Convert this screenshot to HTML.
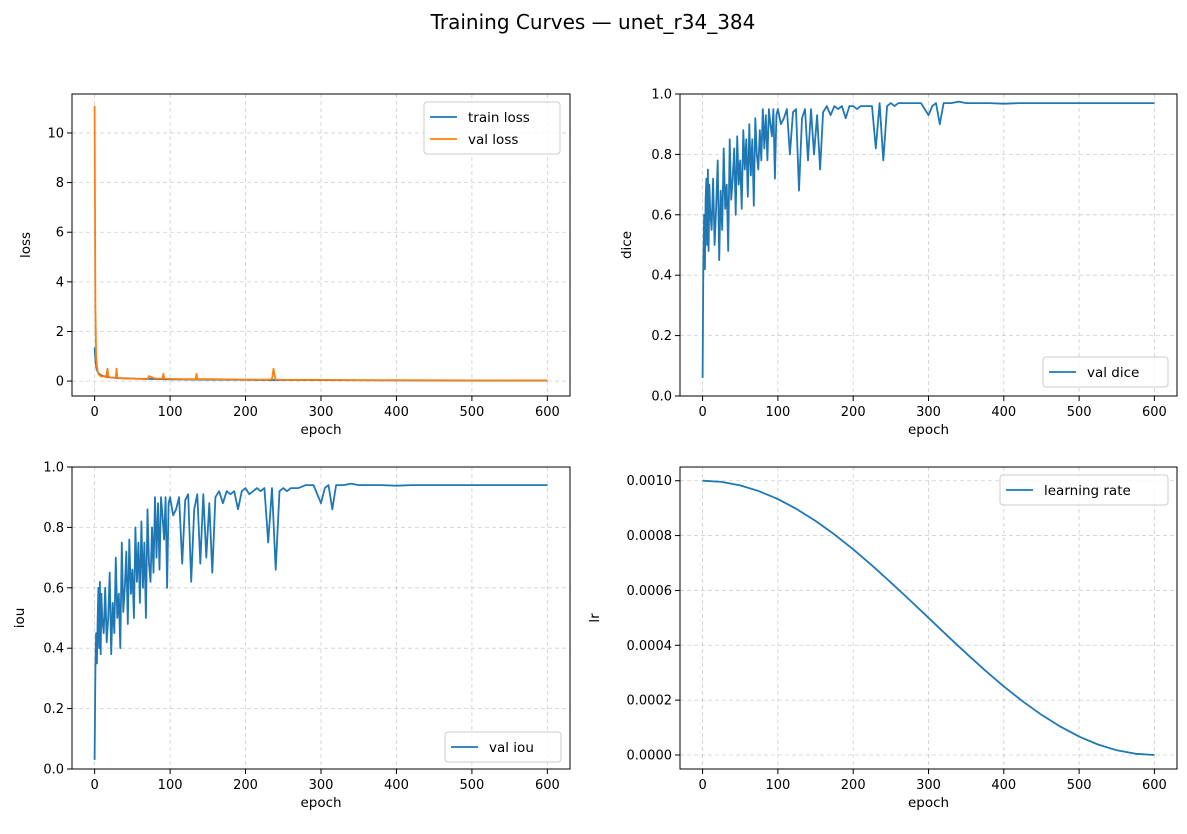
<!DOCTYPE html>
<html><head><meta charset="utf-8"><style>
body{margin:0;background:#fff;font-family:"Liberation Sans","DejaVu Sans",sans-serif}
svg text{font-family:"DejaVu Sans","Liberation Sans",sans-serif}
</style></head><body>
<svg id="fig" width="1187" height="829" viewBox="0 0 1187 829" xmlns="http://www.w3.org/2000/svg">
<rect width="1187" height="829" fill="#fff"/>
<text x="593" y="29" text-anchor="middle" font-size="20">Training Curves — unet_r34_384</text>
</svg>
<script>
const lossEpochs=[0,1,2,3,4,5,6,8,10,12,15,17,18,20,25,28,29,30,32,35,40,50,60,70,72,80,90,91,92,100,120,134,135,136,150,200,230,235,237,238,240,250,300,350,400,500,600];
const valLoss=[11.1,3,1,.6,.4,.3,.25,.2,.18,.2,.15,.5,.2,.15,.14,.12,.5,.15,.12,.12,.1,.1,.09,.08,.2,.1,.1,.3,.1,.09,.08,.08,.3,.08,.08,.06,.06,.08,.5,.3,.06,.05,.05,.04,.04,.03,.03];
const trainEpochs=[0,1,2,3,5,8,10,15,20,30,50,100,200,300,400,600];
const trainLoss=[1.35,0.9,0.6,0.45,0.32,0.25,0.22,0.18,0.15,0.12,0.1,0.07,0.05,0.04,0.03,0.02];
const metricEpochs=[0,1,2,3,4,5,6,7,8,9,10,12,14,16,18,20,22,24,26,28,30,32,34,36,38,40,42,44,46,48,50,52,54,56,58,60,62,64,66,68,70,72,74,76,78,80,82,84,86,88,90,92,94,96,98,100,104,108,112,116,120,124,128,132,136,140,144,148,152,156,160,165,170,175,180,185,190,195,200,205,210,215,220,225,230,235,240,245,250,255,260,270,280,290,300,305,310,315,320,330,340,350,360,380,400,420,440,460,480,500,520,540,560,580,600];
const valDice=[0.06,0.42,0.6,0.42,0.65,0.72,0.5,0.75,0.48,0.7,
0.62,0.55,0.72,0.5,0.62,0.78,0.45,0.68,0.55,0.82,
0.62,0.7,0.48,0.85,0.65,0.72,0.82,0.6,0.86,0.7,
0.78,0.62,0.88,0.75,0.85,0.66,0.9,0.73,0.85,0.63,
0.92,0.8,0.75,0.88,0.78,0.95,0.82,0.93,0.78,0.95,
0.9,0.86,0.95,0.72,0.93,0.95,0.9,0.92,0.95,0.8,
0.94,0.95,0.68,0.92,0.95,0.78,0.95,0.8,0.93,0.75,
0.94,0.96,0.93,0.96,0.95,0.96,0.92,0.96,0.96,0.95,
0.96,0.96,0.96,0.96,0.82,0.97,0.78,0.96,0.97,0.96,
0.97,0.97,0.97,0.97,0.93,0.96,0.97,0.90,0.97,0.97,
0.975,0.97,0.97,0.97,0.968,0.97,0.97,0.97,0.97,0.97,
0.97,0.97,0.97,0.97,0.97];
const valIou=[0.03,0.33,0.45,0.35,0.5,0.6,0.4,0.62,0.38,0.58,
0.5,0.45,0.6,0.42,0.5,0.65,0.38,0.55,0.45,0.7,
0.5,0.58,0.4,0.75,0.52,0.6,0.72,0.48,0.76,0.58,
0.66,0.5,0.8,0.62,0.75,0.55,0.82,0.6,0.75,0.5,
0.86,0.68,0.62,0.8,0.65,0.9,0.7,0.88,0.66,0.9,
0.84,0.76,0.9,0.6,0.88,0.9,0.84,0.86,0.9,0.68,
0.89,0.91,0.62,0.86,0.91,0.68,0.91,0.7,0.88,0.65,
0.9,0.92,0.88,0.92,0.91,0.92,0.86,0.92,0.93,0.91,
0.92,0.93,0.92,0.93,0.75,0.93,0.66,0.92,0.93,0.92,
0.93,0.93,0.94,0.94,0.88,0.93,0.94,0.86,0.94,0.94,
0.945,0.94,0.94,0.94,0.938,0.94,0.94,0.94,0.94,0.94,
0.94,0.94,0.94,0.94,0.94];
const lrEpochs=[0,25,50,75,100,125,150,175,200,225,250,275,300,325,350,375,400,425,450,475,500,525,550,575,600];
const lrValues=[0.001,0.00099572,0.00098296,0.00096194,0.00093301,0.00089668,0.00085355,0.00080438,0.00075,0.00069134,0.00062941,0.00056526,0.0005,0.00043474,0.00037059,0.00030866,0.00025,0.00019562,0.00014645,0.00010332,0.00006699,0.00003806,0.00001704,0.00000428,0];
const xTicks=[0,100,200,300,400,500,600];
const lossTicks=[0,2,4,6,8,10];
const unitTicks=[0,0.2,0.4,0.6,0.8,1.0];
const lrTicks=[0,0.0002,0.0004,0.0006,0.0008,0.001];

const NS='http://www.w3.org/2000/svg';
const svg=document.getElementById('fig');
function mk(tag,attrs,parent){const e=document.createElementNS(NS,tag);for(const k in attrs)e.setAttribute(k,attrs[k]);(parent||svg).appendChild(e);return e;}

function panel(cfg){
  const g=mk('g',{});
  
  
  const L=cfg.x0,R=cfg.x1,T=cfg.y0,B=cfg.y1;
  const sx=v=>L+(v-(-30))/(660)*(R-L);
  const sy=v=>B-(v-cfg.ymin)/(cfg.ymax-cfg.ymin)*(B-T);
  xTicks.forEach(t=>{const l=mk('line',{x1:sx(t),x2:sx(t),y1:T,y2:B,stroke:'#b0b0b0','stroke-width':0.8,'stroke-dasharray':'4,3',opacity:0.6},g);
    });
  cfg.yTicks.forEach(t=>{const l=mk('line',{x1:L,x2:R,y1:sy(t),y2:sy(t),stroke:'#b0b0b0','stroke-width':0.8,'stroke-dasharray':'4,3',opacity:0.6},g);
    });
  cfg.series.forEach(s=>{
    const n=Math.min(s.x.length,s.y.length);let pts=[];
    for(let i=0;i<n;i++)pts.push(sx(s.x[i]).toFixed(1)+','+sy(s.y[i]).toFixed(1));
    const p=mk('polyline',{points:pts.join(' '),fill:'none',stroke:s.color,'stroke-width':1.8,'stroke-linejoin':'round'},g);
    
  });
  const fr=mk('rect',{x:L,y:T,width:R-L,height:B-T,fill:'none',stroke:'#000','stroke-width':1},g);
  
  xTicks.forEach(t=>{mk('line',{x1:sx(t),x2:sx(t),y1:B,y2:B+5,stroke:'#000'},g);
    const tx=mk('text',{x:sx(t),y:B+20,'text-anchor':'middle','font-size':13},g);tx.textContent=t;
    });
  cfg.yTicks.forEach((t,i)=>{mk('line',{x1:L-5,x2:L,y1:sy(t),y2:sy(t),stroke:'#000'},g);
    const tx=mk('text',{x:L-8,y:sy(t)+4.5,'text-anchor':'end','font-size':13},g);tx.textContent=cfg.fmt(t);
    });
  const xl=mk('text',{x:(L+R)/2,y:B+38,'text-anchor':'middle','font-size':13.5},g);xl.textContent='epoch';
  
  const yl=mk('text',{x:cfg.ylabX,y:(T+B)/2,'text-anchor':'middle','font-size':13.5,transform:`rotate(-90 ${cfg.ylabX} ${(T+B)/2})`},g);yl.textContent=cfg.ylabel;
  
  const lg=cfg.legend;
  const lgG=mk('g',{},g);
  mk('rect',{x:lg.x,y:lg.y,width:lg.w,height:8+cfg.series.length*22,rx:3,fill:'#fff','fill-opacity':0.8,stroke:'#ccc'},lgG);
  cfg.series.forEach((s,i)=>{const yy=lg.y+15+i*22;
    mk('line',{x1:lg.x+6,x2:lg.x+33,y1:yy,y2:yy,stroke:s.color,'stroke-width':1.8},lgG);
    const tx=mk('text',{x:lg.x+44,y:yy+5,'font-size':13.5},lgG);tx.textContent=s.label;
    });
}
const f1=v=>v.toFixed(1), f0=v=>String(v), f4=v=>v.toFixed(4);
panel({name:'loss-panel',x0:72,x1:570,y0:94,y1:396,ymin:-0.6,ymax:11.57,yTicks:lossTicks,fmt:f0,ylabel:'loss',ylabX:30,
  series:[{id:'train-loss-line',label:'train loss',color:'#1f77b4',x:trainEpochs,y:trainLoss},{id:'val-loss-line',label:'val loss',color:'#ff7f0e',x:lossEpochs,y:valLoss}],
  legend:{x:424,y:102,w:136}});
panel({name:'dice-panel',x0:680,x1:1177,y0:94,y1:396,ymin:0,ymax:1,yTicks:unitTicks,fmt:f1,ylabel:'dice',ylabX:631,
  series:[{id:'val-dice-line',label:'val dice',color:'#1f77b4',x:metricEpochs,y:valDice}],legend:{x:1043,y:357,w:125}});
panel({name:'iou-panel',x0:72,x1:570,y0:467,y1:769,ymin:0,ymax:1,yTicks:unitTicks,fmt:f1,ylabel:'iou',ylabX:24,
  series:[{id:'val-iou-line',label:'val iou',color:'#1f77b4',x:metricEpochs,y:valIou}],legend:{x:445,y:732,w:116}});
panel({name:'lr-panel',x0:680,x1:1177,y0:467,y1:769,ymin:-0.0000511,ymax:0.00105,yTicks:lrTicks,fmt:f4,ylabel:'lr',ylabX:599,
  series:[{id:'learning-rate-line',label:'learning rate',color:'#1f77b4',x:lrEpochs,y:lrValues}],legend:{x:1000,y:475,w:168}});
</script>
</body></html>
